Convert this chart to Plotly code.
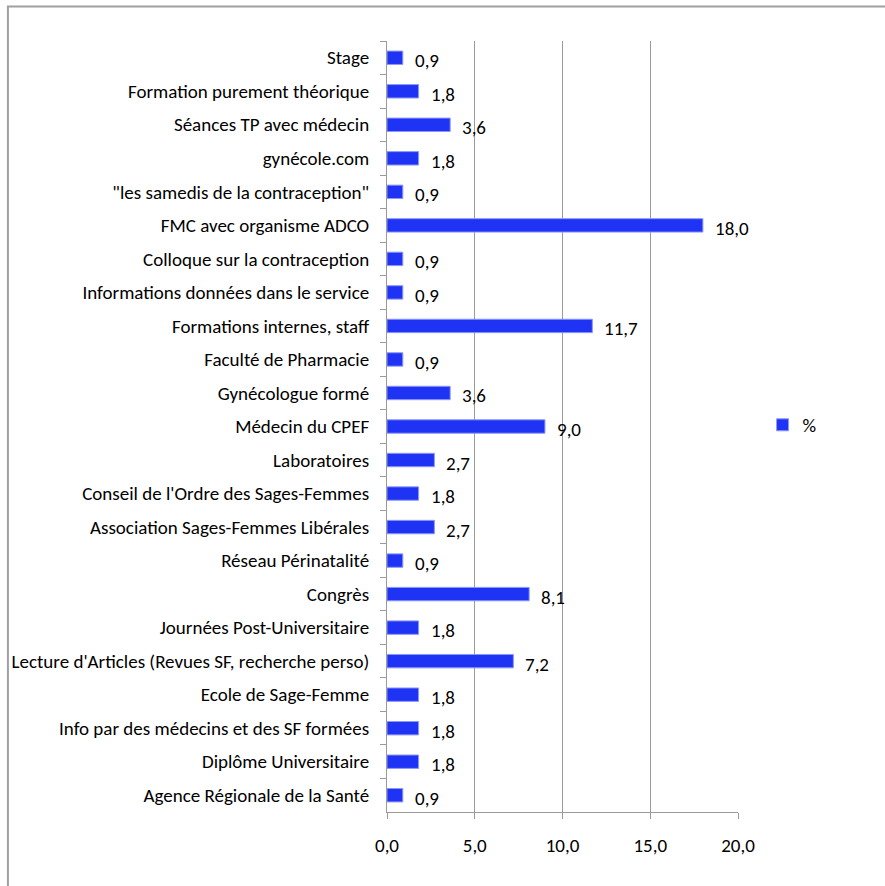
import plotly.graph_objects as go

categories = [
    "Stage",
    "Formation purement théorique",
    "Séances TP avec médecin",
    "gynécole.com",
    "\"les samedis de la contraception\"",
    "FMC avec organisme ADCO",
    "Colloque sur la contraception",
    "Informations données dans le service",
    "Formations internes, staff",
    "Faculté de Pharmacie",
    "Gynécologue formé",
    "Médecin du CPEF",
    "Laboratoires",
    "Conseil de l'Ordre des Sages-Femmes",
    "Association Sages-Femmes Libérales",
    "Réseau Périnatalité",
    "Congrès",
    "Journées Post-Universitaire",
    "Lecture d'Articles (Revues SF, recherche perso)",
    "Ecole de Sage-Femme",
    "Info par des médecins et des SF formées",
    "Diplôme Universitaire",
    "Agence Régionale de la Santé",
]
values = [0.9, 1.8, 3.6, 1.8, 0.9, 18.0, 0.9, 0.9, 11.7, 0.9, 3.6, 9.0, 2.7,
          1.8, 2.7, 0.9, 8.1, 1.8, 7.2, 1.8, 1.8, 1.8, 0.9]
series_name = "%"
x_ticks = [0, 5, 10, 15, 20]

FONT = "Carlito, Lato, sans-serif"
BLUE = "#1F33F5"
GRID = "#9A9A9A"

fig = go.Figure()
fig.add_trace(go.Bar(
    y=categories, x=values, orientation="h", name=series_name,
    marker=dict(color=BLUE, line=dict(color="#8C98FA", width=1)),
    hoverinfo="x+y",
))

for c, v in zip(categories, values):
    fig.add_annotation(
        x=v, y=c, xref="x", yref="y",
        text=f"{v:.1f}".replace(".", ","),
        showarrow=False, xanchor="left", yanchor="middle",
        xshift=10, yshift=-3,
        font=dict(family=FONT, size=19, color="black"),
    )

fig.add_shape(type="rect", xref="paper", yref="paper",
              x0=-1.08, x1=2.0, y0=-1.0, y1=1.0447,
              line=dict(color="#A0A0A0", width=2), layer="below")

fig.update_layout(
    width=885, height=886,
    margin=dict(l=387, r=147, t=41, b=74),
    paper_bgcolor="white", plot_bgcolor="white",
    separators=", ",
    font=dict(family=FONT, size=19, color="black"),
    bargap=0.6,
    showlegend=True,
    legend=dict(x=1.07, y=0.502, xanchor="left", yanchor="middle",
                itemwidth=30,
                font=dict(family=FONT, size=19, color="black"),
                bgcolor="rgba(0,0,0,0)"),
    xaxis=dict(
        range=[0, 20], tickvals=x_ticks, tickformat=".1f",
        showgrid=True, gridcolor=GRID, gridwidth=1,
        showline=True, linecolor=GRID, linewidth=1,
        ticks="outside", ticklen=6, tickcolor=GRID,
        ticklabelstandoff=10,
        zeroline=False, fixedrange=True,
    ),
    yaxis=dict(
        type="category", categoryorder="array", categoryarray=categories,
        autorange="reversed",
        showgrid=False, showline=True, linecolor=GRID, linewidth=1,
        ticks="outside", ticklen=6, tickcolor=GRID, tickson="boundaries",
        ticklabelstandoff=13,
        fixedrange=True,
    ),
)

fig.write_html("out.html")
